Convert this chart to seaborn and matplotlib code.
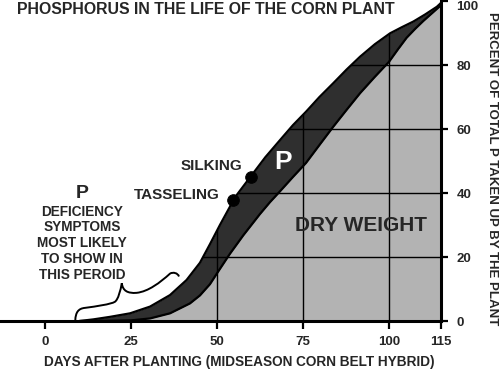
import matplotlib
matplotlib.use("Agg")
import matplotlib.pyplot as plt
import seaborn as sns
from matplotlib.path import Path
from matplotlib.patches import PathPatch

# ---- data ----
days_p = [10, 14, 18.9, 24.7, 30.5, 36.3, 41.1, 45, 47.9, 50.8, 53.7, 54.5, 59.7,
          64, 68.3, 72, 75.8, 79.7, 83.7, 87.6, 91.5, 95.8, 100.2, 103.6, 107, 110.4, 113.8, 115]
p_uptake = [0, 0.5, 1.3, 2.4, 4.5, 8.1, 12.8, 18.2, 24.0, 30, 35.7, 37.7, 45.1,
            51.2, 56.6, 61.2, 65.4, 70, 74.3, 78.6, 82.6, 86.5, 89.9, 91.8, 93.6, 95.8, 98.2, 99.4]

days_dw = [10, 18, 25, 30.5, 36.3, 42.1, 45, 47.9, 50.5, 53.7, 57.6, 62.4, 65.3, 68.3,
           72, 75.8, 79.7, 83.7, 87.6, 91.5, 95.7, 99.9, 102.5, 105, 107.5, 109.9, 112.3, 114.7, 115]
dry_weight = [0, 0.05, 0.2, 0.8, 2.4, 5.5, 8.0, 11.5, 15.8, 21.0, 26.8, 33.4, 37.1, 40.6,
              45, 49.4, 55, 60.7, 66, 71.2, 76.2, 81.0, 84.9, 88.5, 91.3, 93.8, 96.1, 98.4, 99.4]

event_names = ["TASSELING", "SILKING"]
event_days = [54.5, 59.7]
event_pct = [37.7, 45.1]

x_ticks = [0, 25, 50, 75, 100, 115]
y_ticks = [0, 20, 40, 60, 80, 100]
grid_x = [50, 75, 100]
grid_y = [20, 40, 60, 80]

sns.set_style("white")
plt.rcParams['font.family'] = ['Liberation Sans', 'DejaVu Sans']
plt.rcParams['font.weight'] = 'bold'

fig = plt.figure(figsize=(5, 3.81), dpi=100)
ax = fig.add_axes([0, 60 / 381, 441 / 500, 320 / 381])
ax.set_xlim(-45 / 3.443, 115)
ax.set_ylim(0, 100)

dark = ax.fill_between(days_p, 0, p_uptake, color='#2f2f2f', lw=0, zorder=1)
ax.fill_between(days_dw, 0, dry_weight, color='#b3b3b3', lw=0, zorder=2)

clip = dark.get_paths()[0]
for gx in grid_x:
    ln = ax.axvline(gx, color='black', lw=1.0, zorder=3)
    ln.set_clip_path(clip, ax.transData)
for gy in grid_y:
    ln = ax.axhline(gy, color='black', lw=1.0, zorder=3)
    ln.set_clip_path(clip, ax.transData)

sns.lineplot(x=days_p, y=p_uptake, color='black', lw=1.6, zorder=4, ax=ax, sort=False)
sns.lineplot(x=days_dw, y=dry_weight, color='black', lw=1.6, zorder=4, ax=ax, sort=False)
sns.scatterplot(x=event_days, y=event_pct, color='black', s=70, zorder=5, ax=ax, edgecolor='black')

# event labels
ax.text(50.8, 39.5, event_names[0], ha='right', va='center', fontsize=11, fontweight='bold')
ax.text(57.2, 48.3, event_names[1], ha='right', va='center', fontsize=11, fontweight='bold')

# in-plot labels
ax.text(69, 49.7, "P", ha='center', va='center', fontsize=19, fontweight='bold', color='white', zorder=6)
ax.text(91.7, 29.8, "DRY WEIGHT", ha='center', va='center', fontsize=15, fontweight='bold', zorder=6)
ax.text(10.7, 39.8, "P", ha='center', va='center', fontsize=14, fontweight='bold')
ax.text(10.7, 24.3, "DEFICIENCY\nSYMPTOMS\nMOST LIKELY\nTO SHOW IN\nTHIS PEROID",
        ha='center', va='center', fontsize=9.8, fontweight='bold', linespacing=1.17)

# curly brace
verts = [(8.8, 0.3),
         (8.9, 2.6), (9.6, 3.9), (11.6, 4.1),
         (15.0, 4.6), (19.0, 5.2), (20.3, 6.0),
         (21.3, 6.8), (21.9, 9.5), (22.3, 11.8),
         (22.6, 9.4), (24.0, 8.6), (26.6, 8.8),
         (30.0, 9.2), (33.4, 12.0), (36.3, 14.8),
         (37.2, 15.4), (38.6, 15.0), (38.9, 13.9)]
codes = [Path.MOVETO] + [Path.CURVE4] * 18
ax.add_patch(PathPatch(Path(verts, codes), fc='none', ec='black', lw=1.4, zorder=4))

# spines / ticks
for s in ['left', 'top']:
    ax.spines[s].set_visible(False)
for s in ['bottom', 'right']:
    ax.spines[s].set_color('black')
    ax.spines[s].set_linewidth(2.2)
    ax.spines[s].set_zorder(6)
ax.yaxis.tick_right()
ax.set_xticks(x_ticks)
ax.set_xticklabels([str(t) for t in x_ticks])
ax.set_yticks(y_ticks)
ax.set_yticklabels([str(t) for t in y_ticks])
ax.tick_params(axis='x', direction='out', length=6, width=1.6, color='black', pad=5,
               labelsize=9.5, bottom=True)
ax.tick_params(axis='y', direction='out', length=5, width=1.6, color='black', pad=6,
               labelsize=9.5, right=True, left=False)
for lab in ax.get_xticklabels() + ax.get_yticklabels():
    lab.set_fontweight('bold')
ax.get_yticklabels()[-1].set_va('top')
ax.set_xlabel("")
ax.set_ylabel("")

fig.text(17 / 500, 1 - 10 / 381, "PHOSPHORUS IN THE LIFE OF THE CORN PLANT",
         ha='left', va='center', fontsize=11.4, fontweight='bold')
fig.text(239 / 500, 1 - 362 / 381, "DAYS AFTER PLANTING (MIDSEASON CORN BELT HYBRID)",
         ha='center', va='center', fontsize=9.8, fontweight='bold')
fig.text(492 / 500, 1 - 169 / 381, "PERCENT OF TOTAL P TAKEN UP BY THE PLANT",
         ha='center', va='center', fontsize=9.5, fontweight='bold', rotation=270)

fig.savefig("out.png", dpi=100, facecolor='white')
